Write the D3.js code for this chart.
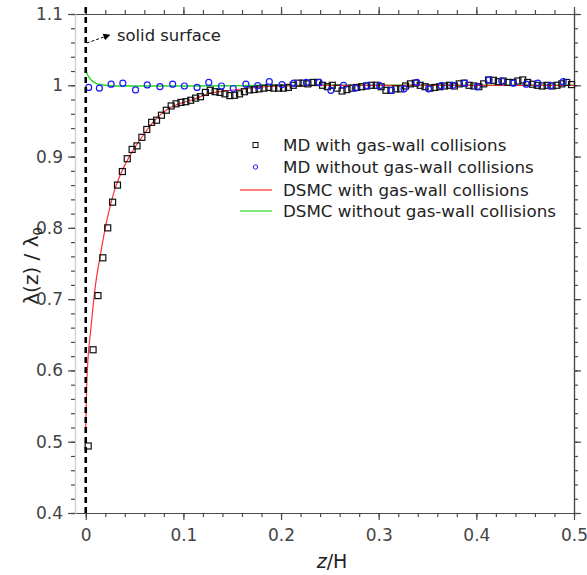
<!DOCTYPE html>
<html>
<head>
<meta charset="utf-8">
<script src="https://cdn.jsdelivr.net/npm/d3@7"></script>
<style>
  body { margin: 0; background: #fff; }
  text { font-family: "DejaVu Sans", "Noto Sans", sans-serif; }
</style>
</head>
<body>
<svg id="chart"></svg>
<script>
// MD with gas-wall collisions (black squares)
const mdWallX = [0.0025, 0.0075, 0.0125, 0.0175, 0.0225, 0.0275, 0.0325, 0.0375, 0.0425, 0.0475,
                 0.0525, 0.0575, 0.0625, 0.0675, 0.0725, 0.0775, 0.0825, 0.0875, 0.0925, 0.0975,
                 0.1025, 0.1075, 0.1125, 0.1175, 0.1225, 0.1275, 0.1325, 0.1375, 0.1425, 0.1475,
                 0.1525, 0.1575, 0.1625, 0.1675, 0.1725, 0.1775, 0.1825, 0.1875, 0.1925, 0.1975,
                 0.2025, 0.2075, 0.2125, 0.2175, 0.2225, 0.2275, 0.2325, 0.2375, 0.2425, 0.2475,
                 0.2525, 0.2575, 0.2625, 0.2675, 0.2725, 0.2775, 0.2825, 0.2875, 0.2925, 0.2975,
                 0.3025, 0.3075, 0.3125, 0.3175, 0.3225, 0.3275, 0.3325, 0.3375, 0.3425, 0.3475,
                 0.3525, 0.3575, 0.3625, 0.3675, 0.3725, 0.3775, 0.3825, 0.3875, 0.3925, 0.3975,
                 0.4025, 0.4075, 0.4125, 0.4175, 0.4225, 0.4275, 0.4325, 0.4375, 0.4425, 0.4475,
                 0.4525, 0.4575, 0.4625, 0.4675, 0.4725, 0.4775, 0.4825, 0.4875, 0.4925, 0.4975];
const mdWallY = [0.494, 0.629, 0.705, 0.758, 0.800, 0.836, 0.860, 0.879, 0.897, 0.910,
                 0.915, 0.927, 0.938, 0.948, 0.951, 0.958, 0.965, 0.971, 0.974, 0.976,
                 0.977, 0.979, 0.982, 0.984, 0.990, 0.993, 0.991, 0.990, 0.988, 0.9855,
                 0.986, 0.988, 0.991, 0.9935, 0.994, 0.995, 0.996, 0.997, 0.996, 0.996,
                 0.996, 0.997, 1.000, 1.003, 1.003, 1.002, 1.004, 1.004, 1.000, 0.998,
                 1.000, 0.996, 0.992, 0.994, 0.996, 0.997, 0.998, 0.999, 1.000, 1.000,
                 0.998, 0.993, 0.993, 0.995, 0.995, 0.999, 1.002, 1.003, 1.000, 0.998,
                 0.996, 0.997, 0.998, 0.999, 1.000, 0.999, 1.002, 1.003, 1.000, 0.999,
                 0.998, 1.002, 1.0075, 1.007, 1.005, 1.006, 1.004, 1.004, 1.006, 1.0075,
                 1.004, 1.0015, 1.000, 0.999, 1.000, 0.999, 1.000, 1.002, 1.004, 1.001];

// MD without gas-wall collisions (blue circles)
const mdNoWallX = [0.003, 0.014, 0.026, 0.038, 0.051, 0.063, 0.076, 0.089, 0.101, 0.114,
                   0.126, 0.139, 0.151, 0.164, 0.176, 0.188, 0.201, 0.213, 0.226, 0.239,
                   0.251, 0.264, 0.276, 0.288, 0.301, 0.313, 0.326, 0.339, 0.351, 0.364,
                   0.376, 0.388, 0.401, 0.413, 0.426, 0.438, 0.451, 0.463, 0.476, 0.489];
const mdNoWallY = [0.997, 0.996, 1.0015, 1.003, 0.9935, 1.0005, 0.998, 1.0015, 0.999, 0.997,
                   1.004, 0.999, 0.9955, 1.0015, 0.9995, 1.005, 1.001, 1.003, 1.004, 1.004,
                   0.993, 1.000, 0.996, 0.9995, 0.9995, 0.993, 0.995, 1.004, 0.995, 0.9995,
                   1.000, 1.003, 0.998, 1.0075, 1.006, 1.003, 1.0015, 1.003, 0.9995, 1.005];

// DSMC with gas-wall collisions (red line)
const dsmcWallX = [0, 0.001, 0.0025, 0.005, 0.0075, 0.01, 0.015, 0.02, 0.025, 0.03, 0.035, 0.04,
                   0.05, 0.06, 0.07, 0.08, 0.09, 0.1, 0.11, 0.125, 0.15, 0.175, 0.2, 0.25, 0.3, 0.4, 0.5];
const dsmcWallY = [0.52, 0.58, 0.62, 0.655, 0.69, 0.72, 0.762, 0.80, 0.83, 0.855, 0.873, 0.888,
                   0.912, 0.932, 0.950, 0.963, 0.971, 0.976, 0.980, 0.988, 0.993, 0.997, 0.999, 1.0, 1.0, 1.0, 1.0];

// DSMC without gas-wall collisions (green line)
const dsmcNoWallX = [0, 0.001, 0.0025, 0.005, 0.0075, 0.01, 0.015, 0.02, 0.03, 0.05, 0.1, 0.2, 0.3, 0.4, 0.5];
const dsmcNoWallY = [1.024, 1.018, 1.013, 1.008, 1.005, 1.003, 1.001, 1.0, 0.999, 0.999, 0.999, 1.0, 1.0, 1.0, 1.0];

const xTicks = [0, 0.1, 0.2, 0.3, 0.4, 0.5];
const yTicks = [0.4, 0.5, 0.6, 0.7, 0.8, 0.9, 1, 1.1];

const legendItems = [
  { label: "MD with gas-wall collisions", type: "square" },
  { label: "MD without gas-wall collisions", type: "circle" },
  { label: "DSMC with gas-wall collisions", type: "line", color: "#ff3030" },
  { label: "DSMC without gas-wall collisions", type: "line", color: "#22dd22" }
];

const W = 587, H = 575;
const plotLeft = 75, plotRight = 574, plotTop = 14, plotBottom = 513;

const svg = d3.select("#chart").attr("width", W).attr("height", H);

const x = d3.scaleLinear().domain([-0.011, 0.5]).range([plotLeft, plotRight]);
const y = d3.scaleLinear().domain([0.4, 1.1]).range([plotBottom, plotTop]);

const xMinor = d3.range(0, 0.5001, 0.02);
const yMinor = d3.range(0.4, 1.1001, 0.02);
const axisColor = "#4a4a4a";

function styleAxis(g, domainColor) {
  g.select(".domain").attr("stroke", domainColor || axisColor).attr("stroke-width", 1.2);
  g.selectAll(".tick line").attr("stroke", axisColor).attr("stroke-width", 1.2);
  g.selectAll(".tick text")
    .attr("fill", "#444")
    .style("font-size", "17px")
    .style("font-family", "'DejaVu Sans', sans-serif");
}

// minor ticks first
svg.append("g").attr("transform", "translate(0," + plotBottom + ")")
  .call(d3.axisBottom(x).tickValues(xMinor).tickSize(4).tickSizeOuter(0).tickFormat(""))
  .call(g => styleAxis(g));
svg.append("g").attr("transform", "translate(0," + plotTop + ")")
  .call(d3.axisTop(x).tickValues(xMinor).tickSize(4).tickSizeOuter(0).tickFormat(""))
  .call(g => styleAxis(g));
svg.append("g").attr("transform", "translate(" + plotLeft + ",0)")
  .call(d3.axisLeft(y).tickValues(yMinor).tickSize(4).tickSizeOuter(0).tickFormat(""))
  .call(g => styleAxis(g, "#d0d0d0"));
svg.append("g").attr("transform", "translate(" + plotRight + ",0)")
  .call(d3.axisRight(y).tickValues(yMinor).tickSize(4).tickSizeOuter(0).tickFormat(""))
  .call(g => styleAxis(g));

// major ticks
svg.append("g").attr("transform", "translate(0," + plotBottom + ")")
  .call(d3.axisBottom(x).tickValues(xTicks).tickSize(7).tickSizeOuter(0).tickPadding(9).tickFormat(d => String(d)))
  .call(g => styleAxis(g));
svg.append("g").attr("transform", "translate(0," + plotTop + ")")
  .call(d3.axisTop(x).tickValues(xTicks).tickSize(7).tickSizeOuter(0).tickFormat(""))
  .call(g => styleAxis(g));
svg.append("g").attr("transform", "translate(" + plotLeft + ",0)")
  .call(d3.axisLeft(y).tickValues(yTicks).tickSize(7).tickSizeOuter(0).tickPadding(5).tickFormat(d => String(d)))
  .call(g => styleAxis(g, "#d0d0d0"));
svg.append("g").attr("transform", "translate(" + plotRight + ",0)")
  .call(d3.axisRight(y).tickValues(yTicks).tickSize(7).tickSizeOuter(0).tickFormat(""))
  .call(g => styleAxis(g));

// curves
const line = d3.line().x(d => x(d[0])).y(d => y(d[1])).curve(d3.curveMonotoneX);

svg.append("path")
  .datum(d3.zip(dsmcNoWallX, dsmcNoWallY))
  .attr("fill", "none")
  .attr("stroke", "#22dd22")
  .attr("stroke-width", 1.5)
  .attr("d", line);

svg.append("path")
  .datum(d3.zip(dsmcWallX, dsmcWallY))
  .attr("fill", "none")
  .attr("stroke", "#ff3030")
  .attr("stroke-width", 1.2)
  .attr("d", line);

// MD points
const sq = 6;
svg.append("g").selectAll("rect")
  .data(d3.zip(mdWallX, mdWallY))
  .enter().append("rect")
  .attr("x", d => x(d[0]) - sq / 2)
  .attr("y", d => y(d[1]) - sq / 2)
  .attr("width", sq)
  .attr("height", sq)
  .attr("fill", "none")
  .attr("stroke", "#111")
  .attr("stroke-width", 1.2);

svg.append("g").selectAll("circle")
  .data(d3.zip(mdNoWallX, mdNoWallY))
  .enter().append("circle")
  .attr("cx", d => x(d[0]))
  .attr("cy", d => y(d[1]))
  .attr("r", 3)
  .attr("fill", "none")
  .attr("stroke", "#1a1aff")
  .attr("stroke-width", 1.2);

// solid surface (dashed line at z = 0)
svg.append("line")
  .attr("x1", x(0)).attr("x2", x(0))
  .attr("y1", plotTop - 7).attr("y2", plotBottom)
  .attr("stroke", "#000")
  .attr("stroke-width", 2.6)
  .attr("stroke-dasharray", "6,4");

// annotation arrow
svg.append("defs").append("marker")
  .attr("id", "arrow")
  .attr("viewBox", "0 0 10 10")
  .attr("refX", 9).attr("refY", 5)
  .attr("markerWidth", 7).attr("markerHeight", 7)
  .attr("orient", "auto")
  .append("path").attr("d", "M0,0L10,5L0,10z").attr("fill", "#000");

svg.append("line")
  .attr("x1", x(0) + 1).attr("y1", 43)
  .attr("x2", x(0) + 24).attr("y2", 35)
  .attr("stroke", "#000")
  .attr("stroke-width", 1)
  .attr("stroke-dasharray", "3,2")
  .attr("marker-end", "url(#arrow)");

svg.append("text")
  .attr("x", 117).attr("y", 41)
  .attr("fill", "#222")
  .style("font-size", "16.4px")
  .text("solid surface");

// legend
const legend = svg.append("g");
const legendY = [145, 167, 190, 211];
legendItems.forEach((item, i) => {
  const cy = legendY[i];
  if (item.type === "square") {
    legend.append("rect").attr("x", 253).attr("y", cy - 2.5).attr("width", 5).attr("height", 5)
      .attr("fill", "none").attr("stroke", "#111").attr("stroke-width", 1);
  } else if (item.type === "circle") {
    legend.append("circle").attr("cx", 255.5).attr("cy", cy).attr("r", 2.2)
      .attr("fill", "none").attr("stroke", "#1a1aff").attr("stroke-width", 1);
  } else {
    legend.append("line").attr("x1", 240).attr("x2", 272).attr("y1", cy).attr("y2", cy)
      .attr("stroke", item.color).attr("stroke-width", 1.2);
  }
  legend.append("text")
    .attr("x", 283).attr("y", cy + 6)
    .attr("fill", "#222")
    .style("font-size", "16.7px")
    .text(item.label);
});

// axis titles
const xTitle = svg.append("text")
  .attr("x", 332).attr("y", 568)
  .attr("text-anchor", "middle")
  .attr("fill", "#222")
  .style("font-size", "19px");
xTitle.append("tspan").style("font-style", "italic").text("z");
xTitle.append("tspan").text("/H");

const yTitle = svg.append("text")
  .attr("transform", "translate(38,266) rotate(-90)")
  .attr("text-anchor", "middle")
  .attr("fill", "#222")
  .style("font-size", "20px");
yTitle.append("tspan").text("λ(z) / λ");
yTitle.append("tspan").attr("dy", 4).style("font-size", "13px").text("0");
</script>
</body>
</html>
